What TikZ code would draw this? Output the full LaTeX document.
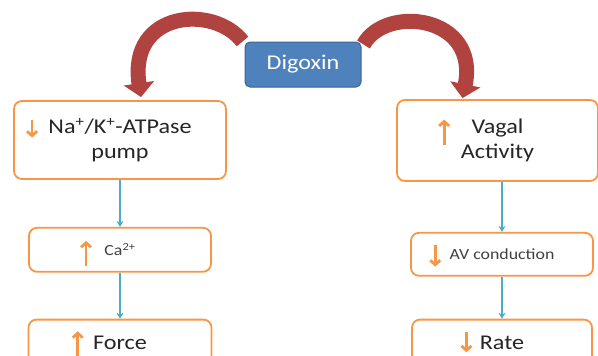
\documentclass[tikz,border=0pt]{standalone}
\usepackage{fontspec}
\setmainfont{Carlito}[FakeStretch=1.15]
\usepackage{xcolor}
\definecolor{cBlue}{HTML}{4F81BD}
\definecolor{cBlueDark}{HTML}{3A6496}
\definecolor{cOrange}{HTML}{F79646}
\definecolor{cTeal}{HTML}{4BACC6}
\definecolor{cRed}{HTML}{B04340}
\definecolor{cText}{HTML}{262626}
\definecolor{cTextLight}{HTML}{404040}
\usepackage{tikz}
\usetikzlibrary{positioning,arrows.meta,backgrounds}
\tikzset{
  node-drug/.style={draw=cBlueDark,fill=cBlue,line width=1pt,rounded corners=5pt,
    minimum width=116pt,minimum height=45pt,inner sep=0pt,text=white,
    font=\fontsize{21}{25}\selectfont},
  node-box/.style={draw=cOrange,fill=white,line width=1.8pt,rounded corners=8pt,
    inner sep=0pt,align=center,text=cText,font=\fontsize{21}{25}\selectfont},
  node-small/.style={text=cTextLight,font=\fontsize{15.5}{19}\selectfont},
  trend/.style={draw=cOrange,line width=2.8pt,-{Straight Barb[length=4.5pt,width=10pt]}},
  arrow/.style={-{Stealth[length=6pt,width=7pt]},line width=1.7pt,draw=cTeal},
  arrow-bend/.style={-{Triangle[length=14pt,width=30pt]},line width=15pt,draw=cRed},
}
% orange up/down marks hanging left of the label: {above}{below}{gap}
\newcommand{\trendup}[3]{\smash{\llap{\tikz[baseline=0pt]\draw[trend] (0pt,-#2pt) -- (0pt,#1pt);\hspace{#3pt}}}}
\newcommand{\trenddown}[3]{\smash{\llap{\tikz[baseline=0pt]\draw[trend] (0pt,#1pt) -- (0pt,-#2pt);\hspace{#3pt}}}}

\begin{document}
\begin{tikzpicture}[x=1pt,y=-1pt]
  \useasboundingbox (0,0) rectangle (598,356);
  \clip (0,0) rectangle (598,356);
  \node[node-drug] (digoxin) at (303,64.5) {Digoxin};
  % left column
  \node[node-box,minimum width=212pt,minimum height=78pt] (pump) at (120,140)
    {\trenddown{14}{4}{10}Na\textsuperscript{+}/K\textsuperscript{+}-ATPase\\pump};
  \node[node-box,node-small,minimum width=182pt,minimum height=44pt,below=47pt of pump] (ca)
    {\trendup{15}{10}{12}Ca\textsuperscript{2+}};
  \node[node-box,minimum width=183pt,minimum height=46pt,below=46pt of ca] (force)
    {\trendup{18}{7}{9}Force};
  % right column
  \node[node-box,minimum width=201pt,minimum height=81pt] (vagal) at (497.5,140.5)
    {\trendup{14}{11}{21}Vagal\\Activity};
  \node[node-box,node-small,minimum width=182pt,minimum height=43pt,below=50pt of vagal,xshift=4.5pt] (av)
    {\trenddown{15}{7}{8}AV conduction};
  \node[node-box,minimum width=180pt,minimum height=46pt,below=42pt of av] (rate)
    {\trenddown{17}{3}{7}Rate};
  \draw[arrow] (pump) -- (ca);
  \draw[arrow] (ca) -- (force);
  \draw[arrow] (vagal.south -| av) -- (av);
  \draw[arrow] (av) -- (rate);
  \begin{scope}[on background layer]
    \draw[arrow-bend] ([shift={(-2,0)}]digoxin.north west)
      .. controls +(-28,-37) and +(-13,-87) .. ([shift={(21,-3)}]pump.north);
    \draw[arrow-bend] ([shift={(2,3)}]digoxin.north east)
      .. controls +(22,-40) and +(17,-83) .. ([shift={(-35,-1)}]vagal.north);
  \end{scope}
\end{tikzpicture}
\end{document}
